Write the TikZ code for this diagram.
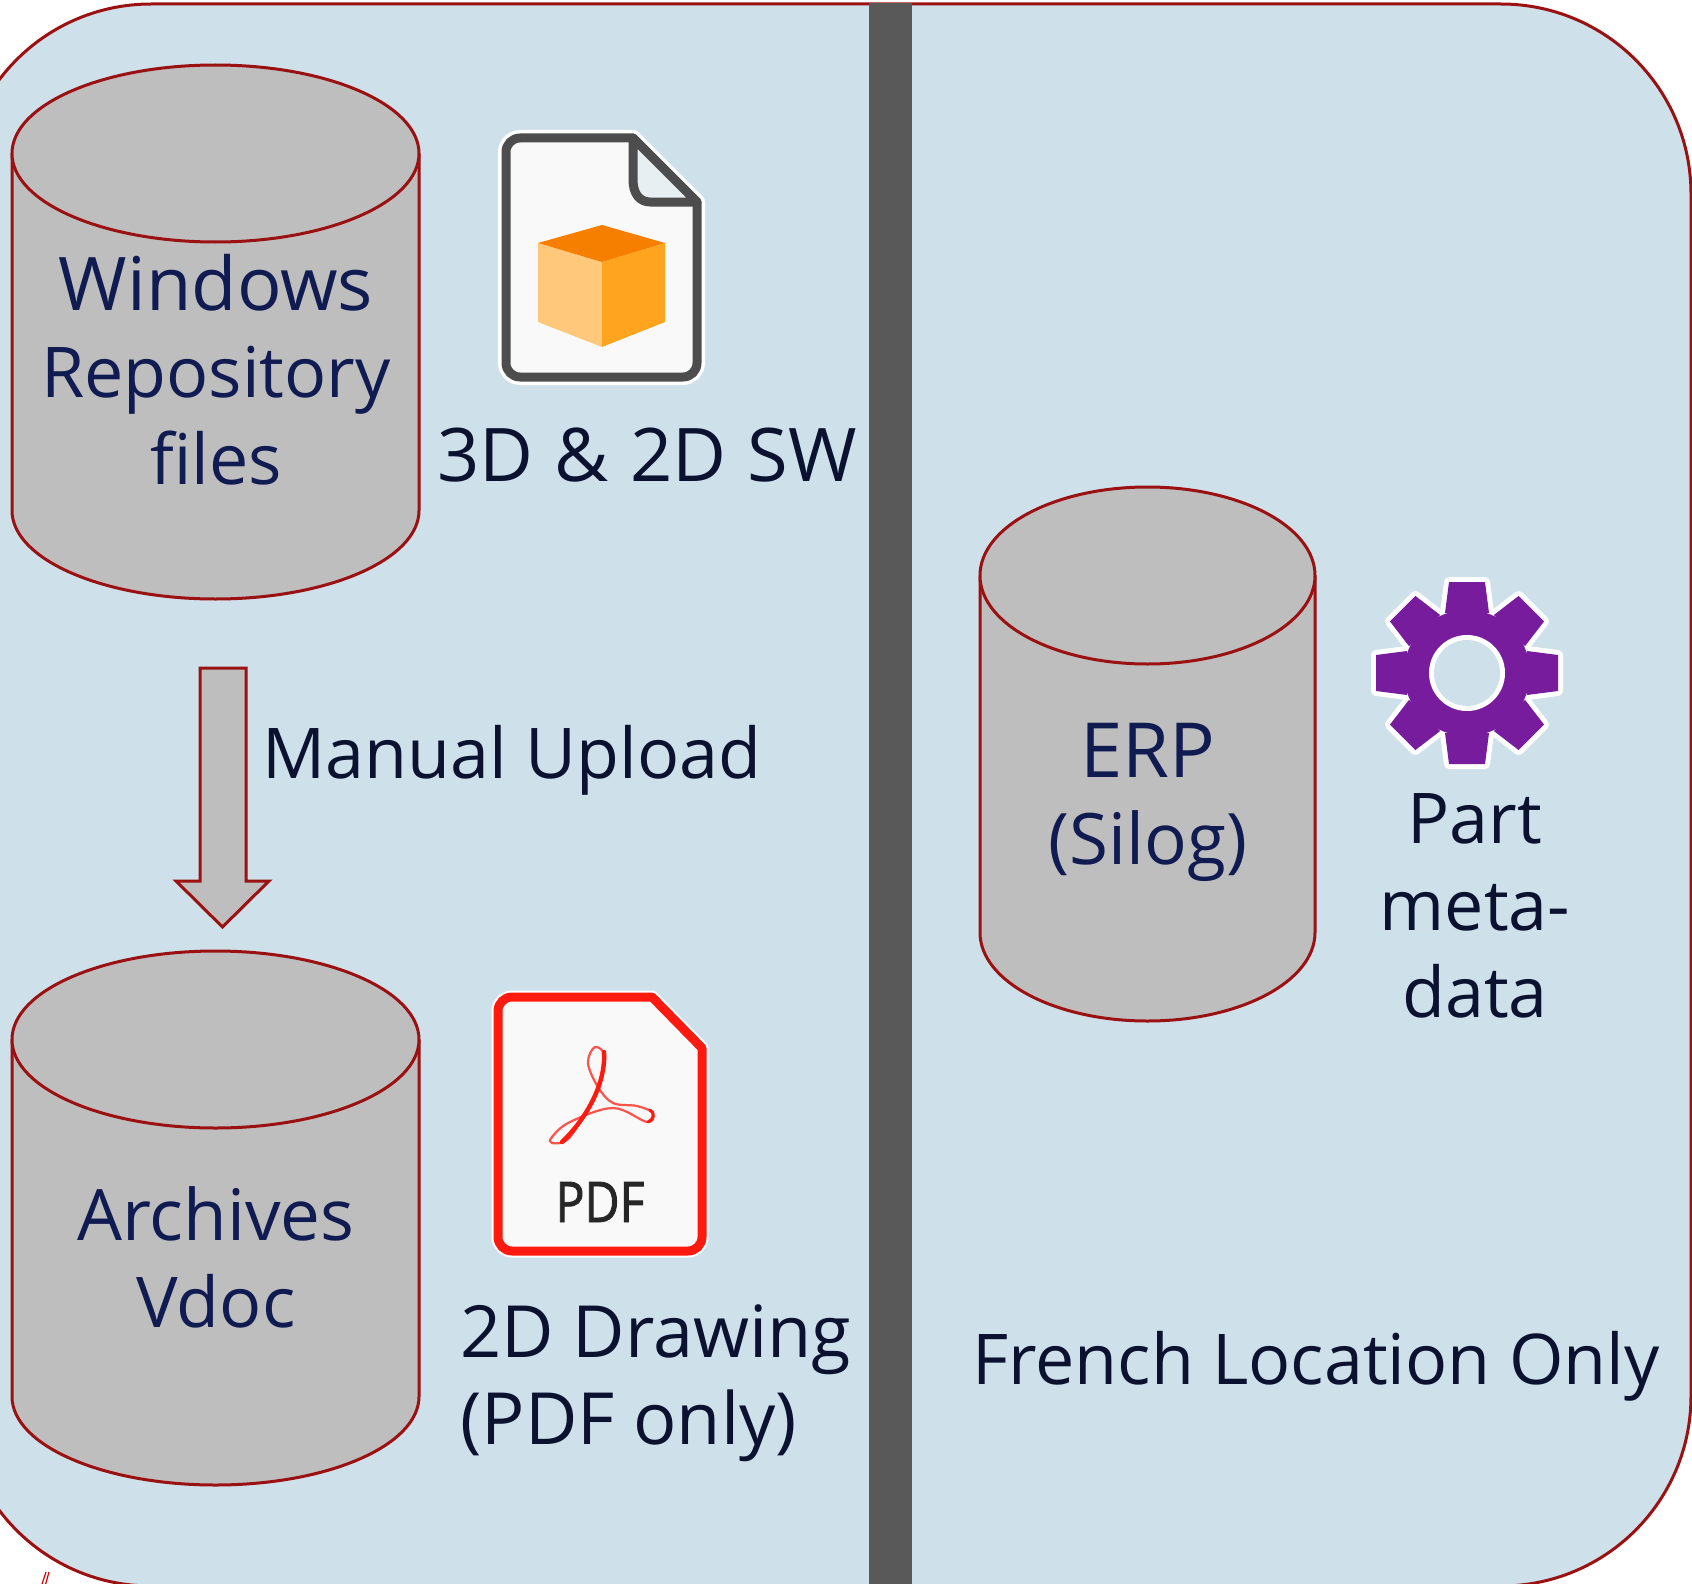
\documentclass[tikz,border=0pt]{standalone}
\usepackage{fontspec}
\setmainfont{Open Sans}
\newfontfamily\pdffont[FakeStretch=0.86,FakeBold=1.5]{Open Sans}
\definecolor{panel}{HTML}{CEE0EA}
\definecolor{edge}{HTML}{9B1111}
\definecolor{cyl}{HTML}{BEBEBE}
\definecolor{navy}{HTML}{101B52}
\definecolor{ink}{HTML}{0B1230}
\definecolor{bar}{HTML}{595959}
\definecolor{gearc}{HTML}{761C9C}
\definecolor{docline}{HTML}{4D4D4D}
\definecolor{docfill}{HTML}{F9F9F9}
\definecolor{foldfill}{HTML}{E8EFF3}
\definecolor{pdfred}{HTML}{FF1A0F}
\definecolor{cubetop}{HTML}{F77F00}
\definecolor{cubeleft}{HTML}{FFC87A}
\definecolor{cuberight}{HTML}{FFA41F}
\tikzset{
  x=0.5pt,y=-0.5pt,
  edgeline/.style={draw=edge,line width=1.5pt},
  cylbody/.style={fill=cyl,edgeline},
  cyltext/.style={inner sep=0,anchor=base,align=center,text=navy,font=\fontsize{35}{43.5}\selectfont},
  lbl/.style={inner sep=0,anchor=base,text=ink,font=\fontsize{35}{43.5}\selectfont},
  biglbl/.style={lbl,font=\fontsize{36}{43.5}\selectfont},
  halo/.style={draw=white,line width=#1,line join=round},
}
\newcommand{\mycyl}[4]{% left,right,top,bottom
  \pgfmathsetmacro{\rxv}{(#2-#1)/2}
  \pgfmathsetmacro{\cxv}{(#2+#1)/2}
  \path[cylbody] (#1,#3+88.5) -- (#1,#4-88.5) arc[start angle=180,end angle=0,x radius=\rxv,y radius=88.5] -- (#2,#3+88.5);
  \path[cylbody] (\cxv,#3+88.5) ellipse[x radius=\rxv,y radius=88.5];
}
\newcommand{\geartooth}{(-22,-60) -- (-18,-91) -- (18,-91) -- (22,-60) -- cycle}
\newcommand{\docshape}{(570,138) -- (633,138) -- (697,202) [rounded corners=7pt] -- (697,377) -- (506,377) -- (506,138) -- cycle}
\newcommand{\pdfshape}{(570,997) -- (652,997) -- (702,1048) [rounded corners=7pt] -- (702,1251) -- (498,1251) -- (498,997) -- cycle}
\begin{document}
\begin{tikzpicture}
\useasboundingbox (0,0) rectangle (1692,1584);
\clip (0,0) rectangle (1692,1584);
% panel
\path[fill=panel,edgeline,rounded corners=95pt] (-39,4) rectangle (1691,1586);
% divider
\fill[bar] (869,3) rectangle (912,1590);
% stray mark
\draw[red!85!black,line width=0.6pt] (40,1590) -- (46,1572) (44,1590) -- (49,1572);
% cylinders
\mycyl{12}{419}{65}{599}
\mycyl{12}{419}{951}{1485}
\mycyl{980}{1315}{487}{1021}
% block arrow
\path[fill=cyl,edgeline,line join=miter] (200,668) -- (246,668) -- (246,881) -- (269,881) -- (222.5,927) -- (176,881) -- (200,881) -- cycle;
% texts
\node[cyltext] (repo) at (216,484) {{\fontsize{37}{43.5}\selectfont Windows}\\Repository\\files};
\node[cyltext] (arch) at (216,1327) {{\fontsize{35.5}{43.5}\selectfont Archives}\\Vdoc};
\node[cyltext] (erp) at (1148,864.5) {{\fontsize{38}{43.5}\selectfont ERP}\\{\fontsize{35.5}{43.5}\selectfont (Silog)}};
\node[lbl,font=\fontsize{37}{43.5}\selectfont] (sw) at (647,481) {3D\hspace{1pt} \& \hspace{1pt}2D\hspace{1pt} SW};
\node[lbl] (upl) at (512,778) {Manual Upload};
\node[lbl,align=center] (part) at (1475,1017) {Part\\meta-\\data};
\node[biglbl,align=left,anchor=base west] (draw2) at (460,1444) {2D Drawing\\(PDF only)};
\node[lbl] (fr) at (1316,1384) {French Location Only};
% 3D file icon
\path[halo=8pt] \docshape;
\path[fill=docfill,draw=docline,line width=4.5pt,line join=round] \docshape;
\path[fill=foldfill,draw=docline,line width=4.5pt,line join=round] (633,138) -- (633,180) .. controls (633,194) and (640,202) .. (650,202) -- (697,202) -- cycle;
\fill[cubeleft] (538,243) -- (602,262) -- (602,347) -- (538,322) -- cycle;
\fill[cuberight] (665,243) -- (602,262) -- (602,347) -- (665,322) -- cycle;
\fill[cubetop] (538,243) -- (602,225) -- (665,243) -- (602,262) -- cycle;
% PDF icon
\path[halo=6.5pt] \pdfshape;
\path[fill=docfill,draw=pdfred,line width=4.5pt,line join=round] \pdfshape;
\path[draw=pdfred!75!docfill,line width=1.1pt] plot[smooth cycle,tension=0.6] coordinates {(595,1047) (605,1057) (598,1087) (583,1117) (567,1140) (552,1143) (552,1137) (570,1122) (613,1108) (647,1122) (653,1113) (637,1106) (613,1103) (598,1087) (588,1063)};
\draw[pdfred,line width=2.2pt,line cap=round] (604,1052) .. controls (606,1085) and (585,1120) .. (562,1142);
\draw[pdfred,line width=1.5pt,line cap=round] (648,1122) .. controls (654,1120) and (655,1112) .. (650,1110);
\node[inner sep=0,anchor=base,text=black!85,font=\fontsize{28}{28}\pdffont] (pdf) at (600,1222) {PDF};
% gear icon
\begin{scope}[shift={(1467,673)}]
  \foreach \a in {0,45,...,315} {
    \path[halo=5pt,rotate=\a] \geartooth;
  }
  \fill[white] (0,0) circle[radius=66];
  \foreach \a in {0,45,...,315} {
    \fill[gearc,rotate=\a] \geartooth;
  }
  \fill[gearc] (0,0) circle[radius=63];
  \fill[white] (0,0) circle[radius=38];
  \fill[panel] (0,0) circle[radius=33];
\end{scope}
\end{tikzpicture}
\end{document}
